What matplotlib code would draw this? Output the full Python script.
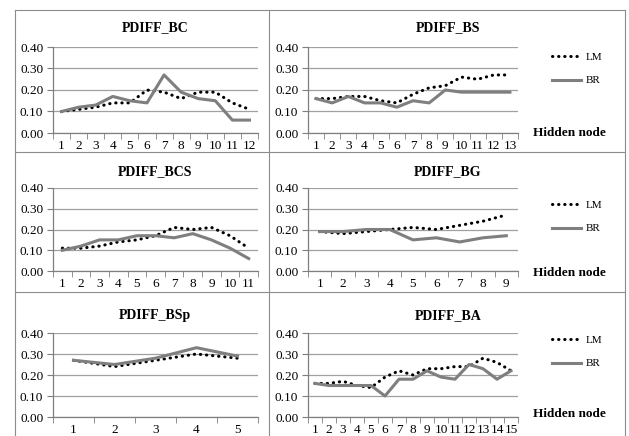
import matplotlib
matplotlib.use("Agg")
import matplotlib.pyplot as plt
from matplotlib.lines import Line2D
import numpy as np

plt.rcParams['font.family'] = ['Liberation Serif', 'DejaVu Serif']

W, H = 629, 436

# data
bc_lm = [0.10, 0.11, 0.12, 0.14, 0.14, 0.20, 0.19, 0.16, 0.19, 0.19, 0.14, 0.11]
bc_br = [0.10, 0.12, 0.13, 0.17, 0.15, 0.14, 0.27, 0.19, 0.16, 0.15, 0.06, 0.06]

bs_lm = [0.16, 0.16, 0.17, 0.17, 0.15, 0.14, 0.18, 0.21, 0.22, 0.26, 0.25, 0.27, 0.27]
bs_br = [0.16, 0.14, 0.17, 0.14, 0.14, 0.12, 0.15, 0.14, 0.20, 0.19, 0.19, 0.19, 0.19]

bcs_lm = [0.11, 0.11, 0.12, 0.14, 0.15, 0.17, 0.21, 0.20, 0.21, 0.17, 0.11]
bcs_br = [0.10, 0.12, 0.15, 0.15, 0.17, 0.17, 0.16, 0.18, 0.15, 0.11, 0.06]

bg_lm = [0.19, 0.18, 0.19, 0.20, 0.21, 0.20, 0.22, 0.24, 0.27]
bg_br = [0.19, 0.19, 0.20, 0.20, 0.15, 0.16, 0.14, 0.16, 0.17]

bsp_lm = [0.27, 0.24, 0.27, 0.30, 0.28]
bsp_br = [0.27, 0.25, 0.28, 0.33, 0.29]

ba_lm = [0.16, 0.16, 0.17, 0.15, 0.14, 0.19, 0.22, 0.20, 0.23, 0.23, 0.24, 0.24, 0.28, 0.26, 0.22]
ba_br = [0.16, 0.15, 0.15, 0.15, 0.15, 0.10, 0.18, 0.18, 0.22, 0.19, 0.18, 0.25, 0.23, 0.18, 0.22]

panels = [
    ("PDIFF_BC", bc_lm, bc_br, 0, 0),
    ("PDIFF_BS", bs_lm, bs_br, 0, 1),
    ("PDIFF_BCS", bcs_lm, bcs_br, 1, 0),
    ("PDIFF_BG", bg_lm, bg_br, 1, 1),
    ("PDIFF_BSp", bsp_lm, bsp_br, 2, 0),
    ("PDIFF_BA", ba_lm, ba_br, 2, 1),
]

# pixel layout
col_x = [(53, 258), (308, 518)]
row_y = [(47, 133), (188, 271), (333, 417)]
title_y = [28, 172, 316]
title_x = [155, 448]
leg_y = [56, 204, 339]
hid_y = [133, 273, 414]

grey_line = '#7f7f7f'
grid_c = '#a0a0a0'

fig = plt.figure(figsize=(W / 100, H / 100), dpi=100)

def fx(px):
    return px / W

def fy(py):
    return 1 - py / H

for name, lm, br, r, c in panels:
    x0, x1 = col_x[c]
    y0, y1 = row_y[r]
    ax = fig.add_axes([fx(x0), fy(y1), fx(x1 - x0), (y1 - y0) / H])
    n = len(lm)
    x = np.arange(1, n + 1)
    l1, = ax.plot(x, lm, color='black', lw=2.2, linestyle=(0, (0.1, 1.9)),
                  dash_capstyle='round', label='LM', zorder=3)
    l2, = ax.plot(x, br, color=grey_line, lw=2.2, label='BR', zorder=3)
    ax.set_xlim(0.5, n + 0.5)
    ax.set_ylim(0, 0.4)
    ax.set_yticks([0, 0.1, 0.2, 0.3, 0.4])
    ax.set_yticklabels(['0.00', '0.10', '0.20', '0.30', '0.40'], fontsize=9.5)
    ax.set_xticks(x)
    ax.set_xticklabels([str(i) for i in x], fontsize=9.5)
    ax.set_xticks(np.arange(0.5, n + 1, 1), minor=True)
    ax.tick_params(axis='x', which='major', length=0, pad=5)
    ax.tick_params(axis='x', which='minor', length=4, color=grey_line, direction='out')
    ax.tick_params(axis='y', length=4, color=grey_line, direction='out', pad=3)
    ax.grid(axis='y', color=grid_c, lw=0.9)
    ax.set_axisbelow(True)
    for s in ['top', 'right']:
        ax.spines[s].set_visible(False)
    for s in ['left', 'bottom']:
        ax.spines[s].set_color(grey_line)
        ax.spines[s].set_linewidth(0.9)
    ax.patch.set_alpha(0)

    fig.text(fx(title_x[c]), fy(title_y[r]), name, ha='center', va='center',
             fontsize=10, fontweight='bold')

    if c == 1:
        ax.legend(handles=[l1, l2], loc='upper left',
                  bbox_to_anchor=(fx(552), fy(leg_y[r] - 4)),
                  bbox_transform=fig.transFigure, frameon=False,
                  fontsize=8, handlelength=2.6, handletextpad=0.4,
                  labelspacing=1.25, borderpad=0, borderaxespad=0)
        fig.text(fx(569), fy(hid_y[r]), 'Hidden node', ha='center', va='center',
                 fontsize=9.5, fontweight='bold')

# cell borders
border_c = '#8c8c8c'
for xv in [15, 269, 625]:
    fig.add_artist(Line2D([fx(xv), fx(xv)], [fy(10), 0], color=border_c, lw=0.8))
for yv in [10, 152, 292]:
    fig.add_artist(Line2D([fx(15), fx(625)], [fy(yv), fy(yv)], color=border_c, lw=0.8))

fig.savefig('out.png', dpi=100)
